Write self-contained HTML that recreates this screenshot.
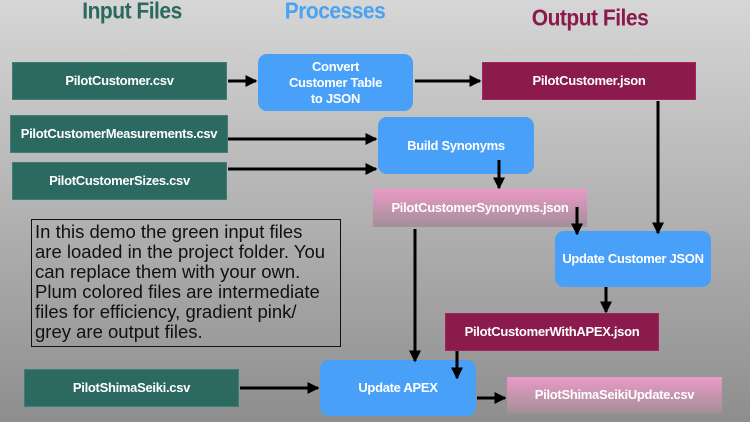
<!DOCTYPE html>
<html><head><meta charset="utf-8"><style>
html,body{margin:0;padding:0}
body{width:750px;height:422px;position:relative;overflow:hidden;background:linear-gradient(#d6d6d6,#8e8e8e);font-family:"Liberation Sans",sans-serif}
.t{position:absolute;font-weight:bold;font-size:21px;letter-spacing:-0.5px;transform:translateX(-50%) scaleY(1.1);white-space:nowrap;line-height:24px}
.b{position:absolute;display:flex;align-items:center;justify-content:center;text-align:center;color:#fff;font-weight:bold;font-size:13px;letter-spacing:-0.3px;box-sizing:border-box;line-height:16px}
.g{background:#2c6961;border:1px solid #3f7f76}
.p{background:#8a1b4c;border:1px solid #a0285e}
.u{background:#48a0f8;border-radius:9px}
.k{background:linear-gradient(#ea9ac6,#a38f99)}
.note{position:absolute;left:31px;top:219px;width:310px;height:128px;border:1.5px solid #111;box-sizing:border-box;font-size:18.5px;line-height:20px;padding:2px 3px;color:#111;white-space:nowrap;overflow:hidden}
svg{position:absolute;left:0;top:0}
</style></head><body>
<div class="t" style="left:132px;top:0px;color:#2a6a5e">Input Files</div>
<div class="t" style="left:335px;top:0px;color:#4aa2f2">Processes</div>
<div class="t" style="left:590px;top:7px;color:#8a1a4c">Output Files</div>

<div class="b g" style="left:12px;top:62px;width:215px;height:38px">PilotCustomer.csv</div>
<div class="b u" style="left:258px;top:54px;width:155px;height:57px">Convert<br>Customer Table<br>to JSON</div>
<div class="b p" style="left:482px;top:62px;width:214px;height:38px">PilotCustomer.json</div>
<div class="b g" style="left:10px;top:115px;width:218px;height:38px">PilotCustomerMeasurements.csv</div>
<div class="b g" style="left:12px;top:162px;width:215px;height:38px">PilotCustomerSizes.csv</div>
<div class="b u" style="left:378px;top:117px;width:156px;height:57px">Build Synonyms</div>
<div class="b k" style="left:373px;top:189px;width:214px;height:38px">PilotCustomerSynonyms.json</div>
<div class="b u" style="left:555px;top:231px;width:156px;height:56px">Update Customer JSON</div>
<div class="b p" style="left:445px;top:313px;width:214px;height:38px">PilotCustomerWithAPEX.json</div>
<div class="b u" style="left:320px;top:360px;width:156px;height:56px">Update APEX</div>
<div class="b g" style="left:24px;top:369px;width:215px;height:38px">PilotShimaSeiki.csv</div>
<div class="b k" style="left:507px;top:377px;width:215px;height:36px">PilotShimaSeikiUpdate.csv</div>

<div class="note">In this demo the green input files<br>are loaded in the project folder. You<br>can replace them with your own.<br>Plum colored files are intermediate<br>files for efficiency, gradient pink/<br>grey are output files.</div>

<svg width="750" height="422">
<defs><marker id="a" markerWidth="4" markerHeight="4" refX="3.5" refY="2" orient="auto" markerUnits="strokeWidth"><path d="M0,0L4,2L0,4z" fill="#000"/></marker></defs>
<g stroke="#000" stroke-width="3" fill="none" marker-end="url(#a)">
<line x1="228" y1="81" x2="256" y2="81"/>
<line x1="415" y1="81" x2="480" y2="81"/>
<line x1="228" y1="139" x2="376" y2="139"/>
<line x1="228" y1="169" x2="376" y2="169"/>
<line x1="499" y1="160" x2="499" y2="188"/>
<line x1="658" y1="101" x2="658" y2="233"/>
<line x1="577" y1="207" x2="577" y2="234"/>
<line x1="606" y1="287" x2="606" y2="312"/>
<line x1="415" y1="229" x2="415" y2="361"/>
<line x1="457" y1="351" x2="457" y2="378"/>
<line x1="240" y1="388" x2="318" y2="388"/>
<line x1="477" y1="398" x2="505" y2="398"/>
</g></svg>
</body></html>
